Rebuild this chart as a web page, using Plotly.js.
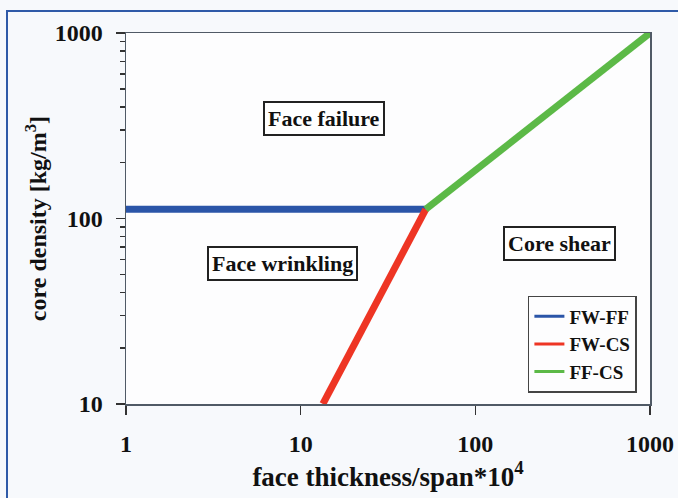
<!DOCTYPE html>
<html><head><meta charset="utf-8">
<script src="https://cdn.plot.ly/plotly-3.0.1.min.js"></script>
<style>
html,body{margin:0;padding:0;background:#f7f9fc;}
#frame{position:absolute;left:6px;top:10px;width:700px;height:520px;border-top:2px solid #2f5aa8;border-left:2px solid #2f5aa8;box-sizing:border-box;}
#chart{position:absolute;left:0;top:0;width:678px;height:498px;}
</style></head><body>
<div id="frame"></div>
<div id="chart"></div>
<script>
const seriesNames = ["FW-FF", "FW-CS", "FF-CS"];
const fwffX = [1, 52];
const fwffY = [112, 112];
const fwcsX = [13.4, 52];
const fwcsY = [10, 112];
const ffcsX = [52, 1000];
const ffcsY = [112, 1000];
const colors = ["#2b55a8", "#ee3524", "#5cb947"];
const xTickVals = [1, 10, 100, 1000];
const xTickText = ["1", "10", "100", "1000"];
const yTickVals = [10, 100, 1000];
const yTickText = ["10", "100", "1000"];
const yMinorVals = [20, 30, 40, 50, 60, 70, 80, 90, 200, 300, 400, 500, 600, 700, 800, 900];
const regionLabels = ["Face failure", "Face wrinkling", "Core shear"];
const regionX = [13.6, 7.9, 305];
const regionY = [344, 57.5, 73];

const fam = "Liberation Serif, Times New Roman, serif";
const tickFont = {family: fam, color: "#111", size: 24, weight: "bold"};
const lineData = [[fwffX, fwffY], [fwcsX, fwcsY], [ffcsX, ffcsY]];
const traces = [];
// invisible carrier trace so the minor-tick axis is drawn
traces.push({x: ffcsX, y: ffcsY, yaxis: "y2", mode: "lines", opacity: 0, showlegend: false, hoverinfo: "skip",
             line: {color: "rgba(0,0,0,0)", width: 0}});
lineData.forEach((d, i) => {
  traces.push({x: d[0], y: d[1], name: seriesNames[i], mode: "lines", showlegend: false,
               line: {color: colors[i], width: 7}});
});
lineData.forEach((d, i) => {
  traces.push({x: [null], y: [null], name: seriesNames[i], mode: "lines", showlegend: true,
               line: {color: colors[i], width: 3}});
});
const layout = {
  width: 678, height: 498,
  margin: {l: 126, r: 28, t: 33, b: 94},
  paper_bgcolor: "rgba(0,0,0,0)",
  plot_bgcolor: "#fdfdfe",
  font: tickFont,
  showlegend: true,
  legend: {x: 0.975, y: 0.03, xanchor: "right", yanchor: "bottom", bgcolor: "#fdfdfe", bordercolor: "#444", borderwidth: 1.5,
           font: {family: fam, size: 19, weight: "bold", color: "#111"}, tracegroupgap: 0},
  xaxis: {type: "log", range: [0, 3], tickmode: "array", tickvals: xTickVals, ticktext: xTickText, ticks: "outside", ticklen: 9,
          tickcolor: "#333", tickwidth: 1.5,
          showgrid: false, zeroline: false, showline: true, linecolor: "#505a66", linewidth: 1.5, mirror: true,
          ticklabelstandoff: 9,
          title: {text: "face thickness/span*10<sup>4</sup>", font: {family: fam, size: 27, weight: "bold", color: "#111"}, standoff: 3}},
  yaxis: {type: "log", range: [1, 3], tickmode: "array", tickvals: yTickVals, ticktext: yTickText, ticks: "outside", ticklen: 9,
          tickcolor: "#333", tickwidth: 1.5,
          showgrid: false, zeroline: false, showline: true, linecolor: "#505a66", linewidth: 1.5, mirror: true,
          ticklabelstandoff: 8,
          title: {text: "core density [kg/m<sup>3</sup>]", font: {family: fam, size: 24, weight: "bold", color: "#111"}, standoff: 1}},
  yaxis2: {type: "log", range: [1, 3], overlaying: "y", side: "left", anchor: "x", tickmode: "array", tickvals: yMinorVals,
           showticklabels: false, ticks: "outside", ticklen: 5, tickcolor: "#333", tickwidth: 1.5,
           showgrid: false, zeroline: false, showline: false},
  annotations: regionLabels.map((t, i) => ({
    x: Math.log10(regionX[i]), y: Math.log10(regionY[i]), xref: "x", yref: "y", text: t, showarrow: false,
    font: {family: fam, size: 22, weight: "bold", color: "#111"},
    bgcolor: "#ffffff", bordercolor: "#222", borderwidth: 2, borderpad: 3
  }))
};
Plotly.newPlot("chart", traces, layout, {displayModeBar: false, staticPlot: true});
</script></body></html>
